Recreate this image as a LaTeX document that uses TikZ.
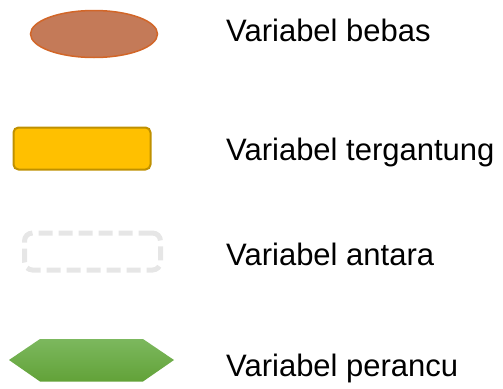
\documentclass[tikz,border=0pt]{standalone}
\usepackage{fontspec}
\setmainfont{Liberation Sans}
\usetikzlibrary{shapes.geometric}
\definecolor{bebasfill}{RGB}{196,122,88}
\definecolor{bebasline}{RGB}{210,102,40}
\definecolor{tergfill}{RGB}{255,192,0}
\definecolor{tergline}{RGB}{191,144,0}
\definecolor{antaraline}{RGB}{230,230,230}
\definecolor{perancutop}{RGB}{124,184,94}
\definecolor{perancubot}{RGB}{98,162,56}
\tikzset{
  legendtext/.style={anchor=base west, inner sep=0pt, font=\fontsize{31}{37}\selectfont},
  bebasbox/.style={ellipse, draw=bebasline, line width=1.5pt, fill=bebasfill,
    minimum width=127pt, minimum height=47pt, inner sep=0pt},
  tergbox/.style={rectangle, rounded corners=5pt, draw=tergline, line width=2pt,
    fill=tergfill, minimum width=137pt, minimum height=42pt, inner sep=0pt},
  antarabox/.style={rectangle, rounded corners=8pt, draw=antaraline, line width=5pt,
    dash pattern=on 14pt off 6pt, minimum width=136pt, minimum height=37pt, inner sep=0pt},
  perancubox/.style={top color=perancutop, bottom color=perancubot, draw=none}
}
\begin{document}
\begin{tikzpicture}[x=1pt,y=-1pt]
  \useasboundingbox (0,0) rectangle (503,388);
  % symbols
  \node[bebasbox] (bebas) at (94,34) {};
  \node[tergbox] (terg) at (82,148.5) {};
  \node[antarabox] (antara) at (92.5,251.5) {};
  \coordinate (pL) at (9,360);
  \coordinate (pR) at (174,360);
  \path[perancubox] (pL) -- (40,339) -- (143,339) -- (pR) -- (143,381.5) -- (40,381.5) -- cycle;
  % labels
  \node[legendtext] (tbebas) at (226,41) {Variabel bebas};
  \node[legendtext] (tterg) at (226,160) {Variabel tergantung};
  \node[legendtext] (tantara) at (226,265) {Variabel antara};
  \node[legendtext] (tperancu) at (226,376) {Variabel perancu};
\end{tikzpicture}
\end{document}
